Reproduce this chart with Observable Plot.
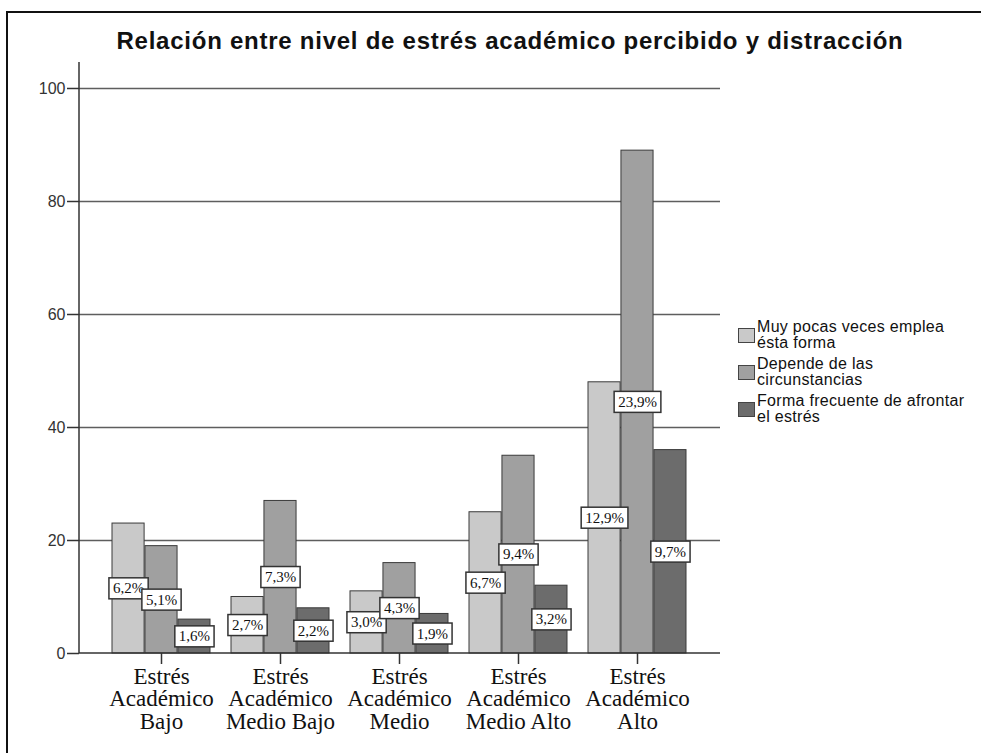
<!DOCTYPE html>
<html>
<head>
<meta charset="utf-8">
<script src="https://cdn.jsdelivr.net/npm/d3@7"></script>
<script src="https://cdn.jsdelivr.net/npm/@observablehq/plot@0.6"></script>
<style>
  html, body { margin: 0; padding: 0; background: #fff; }
  #page { position: relative; width: 981px; height: 753px; overflow: hidden; background: #fff; }
  #frame { position: absolute; left: 6px; top: 11px; width: 990px; height: 760px;
           border-left: 2px solid #111; border-top: 2px solid #111; }
  #title { position: absolute; left: 0; top: 27px; width: 1020px; text-align: center;
           font-family: "Liberation Sans", Arial, sans-serif; font-size: 24px; font-weight: bold;
           letter-spacing: 0.75px; color: #111; }
  #chart { position: absolute; left: 0; top: 50px; }
  #legend { position: absolute; left: 738px; top: 319px; font-family: "Liberation Sans", Arial, sans-serif;
            font-size: 16px; line-height: 16px; color: #111; letter-spacing: 0.3px; white-space: nowrap; }
  .item { position: relative; padding-left: 19px; margin-bottom: 5px; }
  .sw { position: absolute; left: 0; top: 9px; width: 15px; height: 13px; border: 1px solid #444; }
</style>
</head>
<body>
<div id="page">
  <div id="frame"></div>
  <div id="title">Relación entre nivel de estrés académico percibido y distracción</div>
  <div id="chart"></div>
  <div id="legend"></div>
</div>
<script>
// ---- data ----
const categories = ["Estrés Académico Bajo", "Estrés Académico Medio Bajo", "Estrés Académico Medio", "Estrés Académico Medio Alto", "Estrés Académico Alto"];
const tickLabels = ["Estrés\nAcadémico\nBajo", "Estrés\nAcadémico\nMedio Bajo", "Estrés\nAcadémico\nMedio", "Estrés\nAcadémico\nMedio Alto", "Estrés\nAcadémico\nAlto"];
const series = ["Muy pocas veces emplea ésta forma", "Depende de las circunstancias", "Forma frecuente de afrontar el estrés"];
const legendLabels = ["Muy pocas veces emplea<br>ésta forma", "Depende de las<br>circunstancias", "Forma frecuente de afrontar<br>el estrés"];
const muyPocas = [23, 10, 11, 25, 48];
const depende = [19, 27, 16, 35, 89];
const frecuente = [6, 8, 7, 12, 36];
const pctMuyPocas = ["6,2%", "2,7%", "3,0%", "6,7%", "12,9%"];
const pctDepende = ["5,1%", "7,3%", "4,3%", "9,4%", "23,9%"];
const pctFrecuente = ["1,6%", "2,2%", "1,9%", "3,2%", "9,7%"];
const yTicks = [0, 20, 40, 60, 80, 100];
const colors = ["#c9c9c9", "#a0a0a0", "#6c6c6c"];

// ---- table ----
const valueSets = [muyPocas, depende, frecuente];
const pctSets = [pctMuyPocas, pctDepende, pctFrecuente];
const rows = [];
series.forEach((s, si) => categories.forEach((c, ci) => rows.push({
  category: c, series: s, si, value: valueSets[si][ci], pct: pctSets[si][ci]
})));

// ---- layout ----
const W = 981, H = 700, mL = 79, mR = 261, mT = 12, mB = 97;
const pIn = 0.175, pOut = 0.2625;
const step = (W - mL - mR) / (categories.length - pIn + 2 * pOut);
const bw = step * (1 - pIn);
const third = bw / 3;

const marks = [
  Plot.ruleY(yTicks.filter(d => d > 0), {stroke: "#5e5e5e", strokeWidth: 1.5}),
];
series.forEach((s, si) => {
  marks.push(Plot.barY(rows.filter(d => d.si === si), {
    x: "category", y: "value", fill: colors[si], stroke: "#3a3a3a", strokeWidth: 1,
    insetLeft: third * si, insetRight: third * (2 - si)
  }));
});
series.forEach((s, si) => {
  marks.push(Plot.text(rows.filter(d => d.si === si), {
    x: "category", y: d => d.value / 2, text: "pct", dx: (si - 1) * third,
    fontFamily: "Liberation Serif, serif", fontSize: 15, fill: "#111"
  }));
});
marks.push(
  Plot.axisY(yTicks, {tickSize: 12, tickPadding: 2, fontSize: 16, fontFamily: "Liberation Sans, Arial, sans-serif", fill: "#333", stroke: "#333", strokeWidth: 1.5}),
  Plot.axisX({tickSize: 11, tickPadding: 3, fontSize: 23, lineHeight: 0.99, fontFamily: "Liberation Serif, serif", fill: "#111", stroke: "#333", strokeWidth: 1.5,
    tickFormat: d => tickLabels[categories.indexOf(d)]})
);

const chart = Plot.plot({
  width: W, height: H, marginLeft: mL, marginRight: mR, marginTop: mT, marginBottom: mB,
  style: {background: "transparent", overflow: "visible"},
  x: {type: "band", domain: categories, paddingInner: pIn, paddingOuter: pOut, label: null},
  y: {domain: [0, 104.6], label: null},
  marks
});
document.getElementById("chart").appendChild(chart);

// axis lines drawn via scales
const sy = chart.scale("y");
const svg = d3.select(chart);
svg.append("line").attr("x1", mL).attr("x2", W - mR).attr("y1", sy.apply(0)).attr("y2", sy.apply(0))
  .attr("stroke", "#333").attr("stroke-width", 1.5);
svg.append("line").attr("x1", mL).attr("x2", mL).attr("y1", sy.apply(0)).attr("y2", sy.apply(104.6))
  .attr("stroke", "#333").attr("stroke-width", 1.5);

// white boxes behind bar labels
svg.selectAll('g[aria-label="text"] text').each(function() {
  const b = this.getBBox();
  const t = this.getAttribute("transform");
  const r = document.createElementNS("http://www.w3.org/2000/svg", "rect");
  r.setAttribute("x", b.x - 4); r.setAttribute("y", b.y - 2.5);
  r.setAttribute("width", b.width + 8); r.setAttribute("height", b.height + 5);
  r.setAttribute("fill", "#fff"); r.setAttribute("stroke", "#333"); r.setAttribute("stroke-width", "1.5");
  if (t) r.setAttribute("transform", t);
  this.parentNode.insertBefore(r, this);
});

// legend
const lg = document.getElementById("legend");
series.forEach((s, i) => {
  const d = document.createElement("div");
  d.className = "item";
  d.innerHTML = `<span class="sw" style="background:${colors[i]}"></span>${legendLabels[i]}`;
  lg.appendChild(d);
});
</script>
</body>
</html>
